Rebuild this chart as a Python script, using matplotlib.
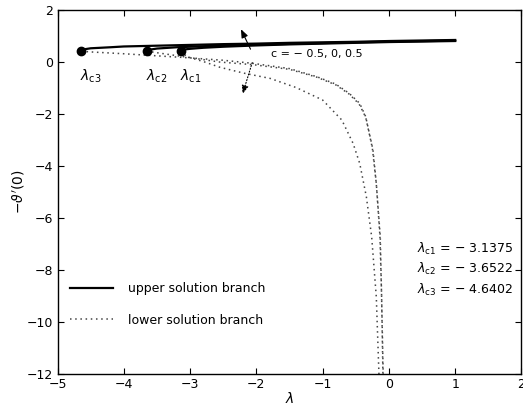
import matplotlib
matplotlib.use("Agg")
import matplotlib.pyplot as plt

# critical points
lam_c = [-3.1375, -3.6522, -4.6402]
f_c = [0.42, 0.42, 0.42]

# upper solution branches (c = -0.5, 0, 0.5)
up1_x = [-3.1375, -3.1, -3.0, -2.8, -2.5, -2.0, -1.5, -1.0, -0.5, 0.0, 0.5, 1.0]
up1_y = [0.42, 0.48, 0.51, 0.55, 0.59, 0.64, 0.68, 0.71, 0.74, 0.77, 0.79, 0.81]
up2_x = [-3.6522, -3.6, -3.5, -3.2, -3.0, -2.5, -2.0, -1.5, -1.0, -0.5, 0.0, 0.5, 1.0]
up2_y = [0.42, 0.48, 0.52, 0.57, 0.59, 0.64, 0.67, 0.70, 0.73, 0.76, 0.785, 0.805, 0.825]
up3_x = [-4.6402, -4.6, -4.5, -4.2, -4.0, -3.5, -3.0, -2.5, -2.0, -1.5, -1.0, -0.5, 0.0, 0.5, 1.0]
up3_y = [0.42, 0.49, 0.53, 0.57, 0.60, 0.63, 0.66, 0.69, 0.71, 0.74, 0.76, 0.78, 0.81, 0.83, 0.85]

# lower solution branches
lo1_x = [-3.1375, -3.1, -3.0, -2.8, -2.55, -2.2, -1.79, -1.4, -1.0, -0.71, -0.54, -0.44, -0.34, -0.26, -0.19, -0.15]
lo1_y = [0.42, 0.30, 0.17, 0.02, -0.20, -0.42, -0.63, -0.98, -1.46, -2.23, -3.13, -3.90, -5.18, -6.72, -9.03, -12.0]
lo2_x = [-3.6522, -3.5, -3.0, -2.55, -2.05, -1.5, -1.09, -0.8, -0.6, -0.45, -0.35, -0.25, -0.19, -0.135, -0.11, -0.09]
lo2_y = [0.42, 0.36, 0.17, 0.0, -0.10, -0.28, -0.58, -0.88, -1.23, -1.61, -2.12, -3.30, -4.68, -6.70, -9.00, -12.0]
lo3_x = [-4.6402, -4.5, -4.0, -3.5, -3.0, -2.5, -2.05, -1.5, -1.09, -0.8, -0.6, -0.44, -0.35, -0.24, -0.19, -0.13, -0.11, -0.086]
lo3_y = [0.42, 0.39, 0.32, 0.24, 0.16, 0.07, -0.05, -0.25, -0.56, -0.85, -1.20, -1.59, -2.10, -3.38, -4.67, -6.72, -9.03, -12.0]

fig = plt.figure(figsize=(5.23, 4.08), dpi=100)
ax = fig.add_axes([0.110, 0.0833, 0.887, 0.892])

dots = (0, (1, 2.4))
ax.plot(up1_x, up1_y, color='k', lw=1.6, label='upper solution branch')
ax.plot(up2_x, up2_y, color='k', lw=1.6)
ax.plot(up3_x, up3_y, color='k', lw=1.6)
ax.plot(lo1_x, lo1_y, color='#444444', lw=1.1, linestyle=dots, label='lower solution branch')
ax.plot(lo2_x, lo2_y, color='#444444', lw=1.1, linestyle=dots)
ax.plot(lo3_x, lo3_y, color='#444444', lw=1.1, linestyle=dots)
ax.plot(lam_c, f_c, 'o', color='k', markersize=6)

# labels at the critical points
for lc, name in zip(lam_c, ['c1', 'c2', 'c3']):
    ax.text(lc - 0.02, -0.2, r'$\lambda_{\mathrm{%s}}$' % name, fontsize=10, ha='left', va='top')

# arrows showing the direction of c
ax.annotate('', xy=(-2.25, 1.36), xytext=(-2.07, 0.40),
            arrowprops=dict(arrowstyle='-|>,head_length=0.5,head_width=0.2', color='k', lw=0.8))
ax.annotate('', xy=(-2.22, -1.33), xytext=(-2.05, 0.08),
            arrowprops=dict(arrowstyle='-|>,head_length=0.5,head_width=0.2', color='k', lw=0.8,
                            linestyle=':'))
ax.text(-1.78, 0.31, 'c = \u2212 0.5, 0, 0.5', fontsize=8, ha='left', va='center')

ax.text(0.42, -7.97, r'$\lambda_{\mathrm{c1}}$' + ' = \u2212 3.1375\n'
        + r'$\lambda_{\mathrm{c2}}$' + ' = \u2212 3.6522\n'
        + r'$\lambda_{\mathrm{c3}}$' + ' = \u2212 4.6402',
        fontsize=9, ha='left', va='center', linespacing=1.35)

ax.set_xlim(-5, 2)
ax.set_ylim(-12, 2)
ax.set_xticks(range(-5, 3))
ax.set_yticks(range(-12, 3, 2))
ax.set_xticklabels(['\u22125', '\u22124', '\u22123', '\u22122', '\u22121', '0', '1', '2'])
ax.set_yticklabels(['\u221212', '\u221210', '\u22128', '\u22126', '\u22124', '\u22122', '0', '2'])
ax.tick_params(direction='in', top=True, right=True, length=4, labelsize=9, pad=3)
for s in ax.spines.values():
    s.set_linewidth(1.0)

ax.set_xlabel(r'$\lambda$', fontsize=10, labelpad=0)
ax.set_ylabel(r"$-\vartheta'(0)$", fontsize=10, labelpad=0)

ax.legend(loc='upper left', bbox_to_anchor=(0.0, 0.287), frameon=False, fontsize=9,
          handlelength=3.4, handletextpad=1.2, labelspacing=1.5, borderaxespad=0.6)

fig.savefig('out.png', dpi=100)
